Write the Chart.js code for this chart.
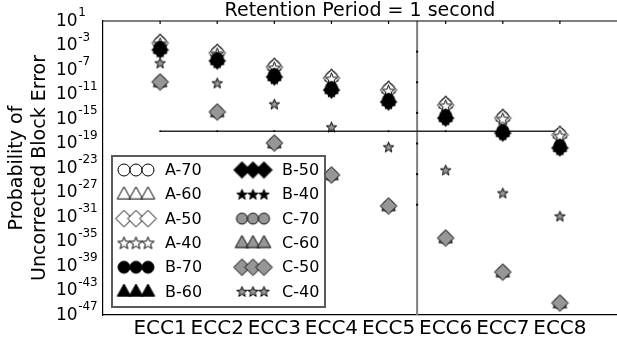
<!DOCTYPE html>
<html>
<head>
<meta charset="utf-8">
<script src="https://cdn.jsdelivr.net/npm/chart.js@4.4.1/dist/chart.umd.min.js"></script>
<style>
  html, body { margin: 0; padding: 0; background: #fff; }
  #c { display: block; }
</style>
</head>
<body>
<canvas id="c" width="617" height="337"></canvas>
<script>
const categories = ['ECC1', 'ECC2', 'ECC3', 'ECC4', 'ECC5', 'ECC6', 'ECC7', 'ECC8'];
const yTickExponents = [1, -3, -7, -11, -15, -19, -23, -27, -31, -35, -39, -43, -47];

// probability of uncorrected block error, one value per ECC
const a70 = [3.6e-3, 8.5e-5, 4.4e-7, 6.9e-9, 7.6e-11, 2.8e-13, 2.0e-15, 3.5e-18];
const a60 = [5.1e-3, 1.2e-4, 6.2e-7, 9.8e-9, 1.1e-10, 3.9e-13, 2.9e-15, 4.9e-18];
const a50 = [2.6e-3, 6.0e-5, 3.1e-7, 4.9e-9, 5.4e-11, 1.9e-13, 1.4e-15, 2.5e-18];
const a40 = [1.8e-3, 4.3e-5, 2.2e-7, 3.5e-9, 3.8e-11, 1.4e-13, 1.0e-15, 1.7e-18];
const b70 = [4.7e-4, 7.4e-6, 1.8e-8, 1.3e-10, 1.5e-12, 3.6e-15, 1.3e-17, 4.7e-20];
const b60 = [3.0e-4, 4.7e-6, 1.1e-8, 8.5e-11, 9.5e-13, 2.3e-15, 8.1e-18, 3.0e-20];
const b50 = [1.9e-4, 3.0e-6, 7.2e-9, 5.4e-11, 6.0e-13, 1.4e-15, 5.1e-18, 1.9e-20];
const b40 = [9.3e-5, 1.5e-6, 3.6e-9, 2.7e-11, 3.0e-13, 7.2e-16, 2.6e-18, 9.3e-21];
const c70 = [1.1e-9, 1.4e-14, 1.2e-19, 7.2e-25, 6.3e-30, 3.7e-35, 1.0e-40, 9.1e-46];
const c60 = [1.1e-9, 1.4e-14, 1.2e-19, 7.2e-25, 6.3e-30, 3.7e-35, 1.0e-40, 9.1e-46];
const c50 = [1.1e-9, 1.4e-14, 1.2e-19, 7.2e-25, 6.3e-30, 3.7e-35, 1.0e-40, 9.1e-46];
const c40 = [1.4e-6, 7.6e-10, 2.8e-13, 4.9e-17, 2.7e-20, 4.7e-24, 8.3e-28, 1.4e-31];

// reference line and divider
const thresholdValue = 1e-17;
const dividerPosition = 5.5;
const dividerDots = [1e-4, 1e-9, 1e-14, 1e-19, 1e-24, 1e-29];

const WHITE = '#ffffff', BLACK = '#000000', GRAY = '#969696';

// marker images, so that filled stars etc. look right
function makeMarker(shape, r, fill) {
  const s = Math.ceil(r * 2 + 4);
  const cv = document.createElement('canvas');
  cv.width = s; cv.height = s;
  const g = cv.getContext('2d');
  const c = s / 2;
  g.beginPath();
  if (shape === 'circle') {
    g.arc(c, c, r, 0, Math.PI * 2);
  } else if (shape === 'triangle') {
    g.moveTo(c, c - r);
    g.lineTo(c + r * 0.9, c + r * 0.62);
    g.lineTo(c - r * 0.9, c + r * 0.62);
    g.closePath();
  } else if (shape === 'diamond') {
    g.moveTo(c, c - r);
    g.lineTo(c + r, c);
    g.lineTo(c, c + r);
    g.lineTo(c - r, c);
    g.closePath();
  } else if (shape === 'star') {
    for (let k = 0; k < 10; k++) {
      const rad = k % 2 ? r * 0.42 : r;
      const ang = -Math.PI / 2 + k * Math.PI / 5;
      const px = c + Math.cos(ang) * rad, py = c + 0.5 + Math.sin(ang) * rad;
      k ? g.lineTo(px, py) : g.moveTo(px, py);
    }
    g.closePath();
  }
  g.fillStyle = fill;
  g.fill();
  g.lineWidth = 1;
  g.strokeStyle = BLACK;
  g.stroke();
  return cv;
}

const series = [
  { label: 'A-70', data: a70, shape: 'circle', r: 6, fill: WHITE },
  { label: 'A-60', data: a60, shape: 'triangle', r: 7.5, fill: WHITE },
  { label: 'A-50', data: a50, shape: 'diamond', r: 8.3, fill: WHITE },
  { label: 'A-40', data: a40, shape: 'star', r: 6.5, fill: WHITE },
  { label: 'B-70', data: b70, shape: 'circle', r: 6, fill: BLACK },
  { label: 'B-60', data: b60, shape: 'triangle', r: 7.5, fill: BLACK },
  { label: 'B-50', data: b50, shape: 'diamond', r: 8.3, fill: BLACK },
  { label: 'B-40', data: b40, shape: 'star', r: 5.5, fill: BLACK },
  { label: 'C-70', data: c70, shape: 'circle', r: 5.5, fill: GRAY },
  { label: 'C-60', data: c60, shape: 'triangle', r: 7.5, fill: GRAY },
  { label: 'C-50', data: c50, shape: 'diamond', r: 8.3, fill: GRAY },
  { label: 'C-40', data: c40, shape: 'star', r: 5.5, fill: GRAY }
];
series.forEach(s => { s.img = makeMarker(s.shape, s.r, s.fill); });

const datasets = series.map((s, i) => ({
  label: s.label,
  data: s.data.map((v, j) => ({ x: j + 1, y: v })),
  pointStyle: s.img,
  pointRadius: s.r,
  showLine: false,
  order: series.length - i
}));

datasets.push({
  label: 'threshold',
  data: categories.map((c, j) => ({ x: j + 1, y: thresholdValue })),
  showLine: true,
  borderColor: '#2b2b2b',
  borderWidth: 1.3,
  pointStyle: 'rect',
  pointRadius: 1.2,
  pointBackgroundColor: BLACK,
  pointBorderWidth: 0,
  order: 100
});
datasets.push({
  label: 'divider',
  data: [{ x: dividerPosition, y: 1e1 }, { x: dividerPosition, y: 1e-47 }],
  showLine: true,
  borderColor: '#808080',
  borderWidth: 2,
  pointRadius: 0,
  order: 101
});
datasets.push({
  label: 'dividerDots',
  data: dividerDots.map(v => ({ x: dividerPosition, y: v })),
  showLine: false,
  pointStyle: 'rect',
  pointRadius: 1.4,
  pointBackgroundColor: BLACK,
  pointBorderWidth: 0,
  order: 99
});

const decor = {
  id: 'decor',
  afterDatasetsDraw(chart) {
    const { ctx, chartArea: a, scales: { x } } = chart;
    ctx.save();
    // top frame with inward ticks
    ctx.strokeStyle = BLACK;
    ctx.lineWidth = 1.2;
    ctx.beginPath();
    ctx.moveTo(a.left, a.top);
    ctx.lineTo(a.right, a.top);
    ctx.stroke();
    categories.forEach((c, j) => {
      const px = x.getPixelForValue(j + 1);
      ctx.beginPath();
      ctx.moveTo(px, a.top);
      ctx.lineTo(px, a.top + 3);
      ctx.stroke();
    });

    // legend box
    const bx = 112, by = 156, bw = 213, bh = 151;
    ctx.fillStyle = WHITE;
    ctx.fillRect(bx, by, bw, bh);
    ctx.strokeStyle = '#5a5a5a';
    ctx.lineWidth = 2;
    ctx.strokeRect(bx, by, bw, bh);
    ctx.font = '16px "DejaVu Sans"';
    ctx.fillStyle = BLACK;
    ctx.textBaseline = 'middle';
    ctx.textAlign = 'left';
    series.forEach((s, i) => {
      const col = i < 6 ? 0 : 1;
      const row = i % 6;
      const cy = by + 14 + row * 24.3;
      const xs = col ? [242, 253, 264] : [124, 136, 148];
      xs.forEach(mx => ctx.drawImage(s.img, mx - s.img.width / 2, cy - s.img.height / 2));
      ctx.fillText(s.label, col ? 282 : 165, cy + 1);
    });
    ctx.restore();
  },
  afterDraw(chart) {
    const { ctx, scales: { y } } = chart;
    ctx.save();
    ctx.fillStyle = BLACK;
    ctx.textBaseline = 'middle';
    ctx.textAlign = 'left';
    yTickExponents.forEach(e => {
      const py = y.getPixelForValue(Math.pow(10, e));
      ctx.font = '17px "DejaVu Sans"';
      ctx.fillText('10', 56, py + 0.5);
      const w = ctx.measureText('10').width;
      ctx.font = '12px "DejaVu Sans"';
      ctx.fillText(String(e), 56 + w + 0.5, py - 8);
    });
    ctx.restore();
  }
};

new Chart(document.getElementById('c'), {
  type: 'scatter',
  data: { datasets },
  plugins: [decor],
  options: {
    responsive: false,
    animation: false,
    events: [],
    layout: { autoPadding: false, padding: 0 },
    plugins: {
      legend: { display: false },
      tooltip: { enabled: false },
      title: {
        display: true,
        text: 'Retention Period = 1 second',
        fullSize: false,
        color: BLACK,
        font: { family: 'DejaVu Sans', size: 19, weight: 'normal', lineHeight: 1.0 },
        padding: { top: 2, bottom: 0 }
      }
    },
    scales: {
      x: {
        type: 'linear',
        min: 0,
        max: 9,
        grid: { display: false, drawTicks: false, tickLength: 0 },
        border: { display: true, color: BLACK, width: 1.2 },
        afterBuildTicks: scale => { scale.ticks = categories.map((c, j) => ({ value: j + 1 })); },
        afterFit: scale => {
          scale.height = 22;
          scale.paddingLeft = 0;
          scale.paddingRight = 0;
        },
        ticks: {
          autoSkip: false,
          maxRotation: 0,
          padding: 2,
          color: BLACK,
          font: { family: 'DejaVu Sans', size: 20 },
          callback: v => categories[v - 1]
        }
      },
      y: {
        type: 'logarithmic',
        min: 1e-47,
        max: 1e1,
        grid: { display: false },
        border: { display: true, color: BLACK, width: 1.2 },
        ticks: { display: false },
        afterFit: scale => { scale.width = 103; },
        title: {
          display: true,
          text: ['Probability of', 'Uncorrected Block Error'],
          color: BLACK,
          font: { family: 'DejaVu Sans', size: 19, lineHeight: 1.2 },
          padding: { top: 6, bottom: 0 }
        }
      }
    }
  }
});
</script>
</body>
</html>
